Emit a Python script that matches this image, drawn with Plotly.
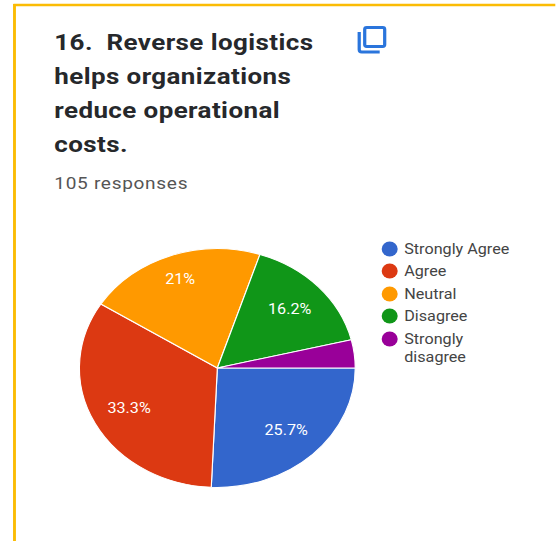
import math
import plotly.graph_objects as go

# Survey question 16: response shares in percent
categories = ["Strongly Agree", "Agree", "Neutral", "Disagree", "Strongly disagree"]
shares = [25.7, 33.3, 21, 16.2, 3.8]
share_labels = ["25.7%", "33.3%", "21%", "16.2%", ""]
colors = ["#3366CC", "#DC3912", "#FF9900", "#109618", "#990099"]
legend_lines = [["Strongly Agree"], ["Agree"], ["Neutral"], ["Disagree"], ["Strongly", "disagree"]]
title_lines = ["16.  Reverse logistics", "helps organizations", "reduce operational", "costs."]
subtitle = "105 responses"

PAGE_W, PAGE_H = 556, 541
STRETCH = 1.155            # horizontal widening applied to the whole card
W = PAGE_W / STRETCH
H = PAGE_H
ICON_BLUE = "#2A75DC"
LABEL_RADIUS = 0.72        # slice labels sit this far out along the radius
NEUTRAL_LABEL_RADIUS = 0.79


def px(x):
    return x / STRETCH / W


def py(y):
    return 1 - y / H


def rounded_path(x0, y0, x1, y1, r):
    # Rounded rectangle as an SVG path in paper coordinates
    pts = [
        ("M", x0 + r, y0), ("L", x1 - r, y0), ("Q", x1, y0, x1, y0 + r),
        ("L", x1, y1 - r), ("Q", x1, y1, x1 - r, y1), ("L", x0 + r, y1),
        ("Q", x0, y1, x0, y1 - r), ("L", x0, y0 + r), ("Q", x0, y0, x0 + r, y0),
    ]
    out = []
    for p in pts:
        coords = [f"{px(p[i])},{py(p[i + 1])}" for i in range(1, len(p), 2)]
        out.append(p[0] + " ".join(coords))
    return " ".join(out) + " Z"


def corner_path():
    # Open corner of the sheet lying behind the front one
    return (f"M{px(359.5)},{py(32)} L{px(359.5)},{py(49.5)} "
            f"Q{px(359.5)},{py(52)} {px(362)},{py(52)} L{px(380)},{py(52)}")


CX, CY, R = 217.5 / STRETCH, 368, 119.5

fig = go.Figure(go.Pie(
    labels=categories,
    values=shares,
    textinfo="none",
    marker=dict(colors=colors, line=dict(color="white", width=1)),
    sort=False,
    direction="clockwise",
    rotation=90,
    showlegend=False,
    hoverinfo="label+percent",
    domain=dict(x=[(CX - R) / W, (CX + R) / W], y=[1 - (CY + R) / H, 1 - (CY - R) / H]),
))

shapes = [
    # Card border: top and left edges
    dict(type="line", xref="paper", yref="paper", x0=px(13.5), x1=1, y0=py(5), y1=py(5),
         line=dict(color="#FBBC04", width=2.5)),
    dict(type="line", xref="paper", yref="paper", x0=px(14.5), x1=px(14.5), y0=py(4), y1=0,
         line=dict(color="#FBBC04", width=2.5)),
    # Copy icon
    dict(type="path", xref="paper", yref="paper", path=rounded_path(365, 27.5, 385, 46.5, 2),
         line=dict(color=ICON_BLUE, width=2.8)),
    dict(type="path", xref="paper", yref="paper", path=corner_path(),
         line=dict(color=ICON_BLUE, width=2.8)),
]

annotations = []
for line, y in zip(title_lines, [42, 76, 110, 144]):
    annotations.append(dict(text=line, x=px(52.5), y=py(y), xref="paper", yref="paper",
                            xanchor="left", yanchor="middle", align="left", showarrow=False,
                            font=dict(family="Roboto", size=22.5, color="#26282B", weight=700)))
annotations.append(dict(text=subtitle, x=px(52.5), y=py(183), xref="paper", yref="paper",
                        xanchor="left", yanchor="middle", align="left", showarrow=False,
                        font=dict(family="Roboto", size=16.5, color="#555555")))

# Slice labels, placed at the middle angle of each slice
running = 0
total = sum(shares)
for share, label, category in zip(shares, share_labels, categories):
    angle = 2 * math.pi * (running + share / 2) / total
    running += share
    reach = NEUTRAL_LABEL_RADIUS if category == "Neutral" else LABEL_RADIUS
    if label:
        annotations.append(dict(
            text=label,
            x=(CX + reach * R * math.cos(angle)) / W,
            y=1 - (CY + reach * R * math.sin(angle)) / H,
            xref="paper", yref="paper", xanchor="center", yanchor="middle", showarrow=False,
            font=dict(family="Roboto", size=14, color="white"),
        ))

# Hand-placed legend so the long entry wraps on two lines
for lines, color, y in zip(legend_lines, colors, [249, 271, 294, 316, 339]):
    shapes.append(dict(type="circle", xref="paper", yref="paper", fillcolor=color,
                       line=dict(color=color, width=0),
                       x0=px(382), x1=px(398), y0=py(y - 7.5), y1=py(y + 7.5)))
    for i, line in enumerate(lines):
        annotations.append(dict(text=line, x=px(402.8), y=py(y + i * 18), xref="paper", yref="paper",
                                xanchor="left", yanchor="middle", align="left", showarrow=False,
                                font=dict(family="Roboto", size=14, color="#444444")))

fig.update_layout(
    width=W, height=H,
    margin=dict(l=0, r=0, t=0, b=0),
    paper_bgcolor="white",
    shapes=shapes,
    annotations=annotations,
)

# Widen the finished card across the page and open up the heading's tracking
stretch_js = f"""
var gd = document.getElementsByClassName('plotly-graph-div')[0];
gd.style.transformOrigin = '0 0';
gd.style.transform = 'scaleX({STRETCH})';
document.body.style.margin = '0';
document.body.style.overflow = 'hidden';
var heading = {title_lines!r};
gd.querySelectorAll('.annotation-text').forEach(function (t) {{
  if (heading.indexOf(t.textContent) >= 0) t.style.letterSpacing = '0.35px';
  if (t.textContent === {subtitle!r}) t.style.letterSpacing = '0.6px';
}});
"""

fig.write_html("out.html", post_script=stretch_js, config=dict(displayModeBar=False))
